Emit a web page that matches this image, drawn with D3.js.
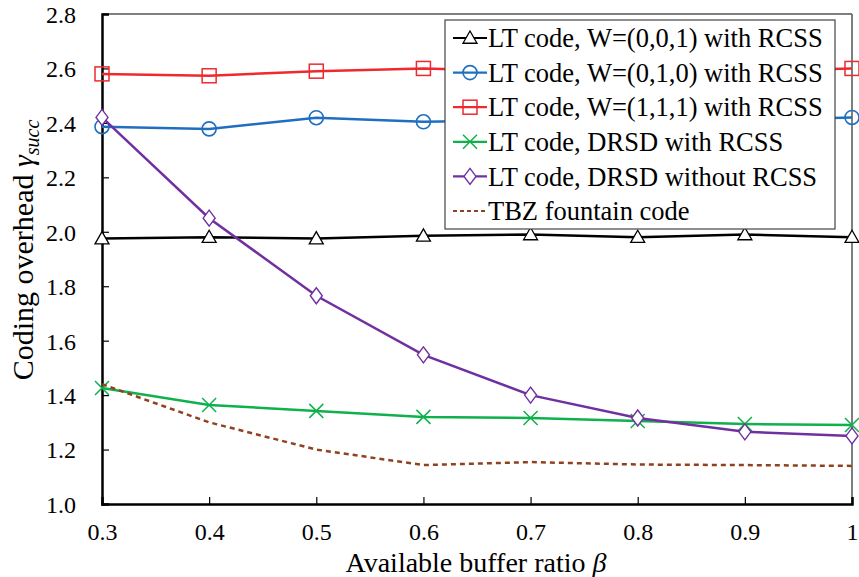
<!DOCTYPE html>
<html>
<head>
<meta charset="utf-8">
<script src="https://cdn.jsdelivr.net/npm/d3@7"></script>
<style>
  body { margin: 0; background: #fff; }
  svg { display: block; }
</style>
</head>
<body>
<div id="chart"></div>
<script>
const betas = [0.3, 0.4, 0.5, 0.6, 0.7, 0.8, 0.9, 1.0];
const xTicks = [0.3, 0.4, 0.5, 0.6, 0.7, 0.8, 0.9, 1];
const yTicks = [1.0, 1.2, 1.4, 1.6, 1.8, 2.0, 2.2, 2.4, 2.6, 2.8];

const w001 = [1.975, 1.98, 1.975, 1.985, 1.99, 1.98, 1.99, 1.98];
const w010 = [2.386, 2.378, 2.419, 2.404, 2.41, 2.40, 2.41, 2.42];
const w111 = [2.58, 2.573, 2.59, 2.60, 2.59, 2.60, 2.59, 2.60];
const drsdWith = [1.426, 1.364, 1.342, 1.32, 1.316, 1.305, 1.294, 1.29];
const drsdWithout = [2.42, 2.05, 1.765, 1.548, 1.40, 1.316, 1.265, 1.25];
const tbz = [1.44, 1.30, 1.20, 1.143, 1.154, 1.145, 1.143, 1.14];

const series = [
  { name: "LT code, W=(0,0,1) with RCSS", values: w001, color: "#000000", marker: "triangle" },
  { name: "LT code, W=(0,1,0) with RCSS", values: w010, color: "#1f6fc0", marker: "circle" },
  { name: "LT code, W=(1,1,1) with RCSS", values: w111, color: "#ee2a2e", marker: "square" },
  { name: "LT code, DRSD with RCSS", values: drsdWith, color: "#10b04c", marker: "x" },
  { name: "LT code, DRSD without RCSS", values: drsdWithout, color: "#7030a0", marker: "diamond" },
  { name: "TBZ fountain code", values: tbz, color: "#8f4220", marker: "none", dash: "5,4" }
];

const serif = "'Liberation Serif', 'Times New Roman', serif";
const width = 859, height = 577;
const margin = { left: 102, right: 7, top: 14, bottom: 73 };

const svg = d3.select("#chart").append("svg")
  .attr("width", width)
  .attr("height", height)
  .style("font-family", serif);

const x = d3.scaleLinear().domain([0.3, 1]).range([margin.left, width - margin.right]);
const y = d3.scaleLinear().domain([1.0, 2.8]).range([height - margin.bottom, margin.top]);

// frame: top/right thin grey
svg.append("line").attr("x1", x(0.3)).attr("x2", x(1)).attr("y1", y(2.8)).attr("y2", y(2.8))
  .attr("stroke", "#555").attr("stroke-width", 1.5);
svg.append("line").attr("x1", x(1)).attr("x2", x(1)).attr("y1", y(2.8)).attr("y2", y(1))
  .attr("stroke", "#555").attr("stroke-width", 1.5);

// axes
const xAxis = svg.append("g")
  .attr("transform", `translate(0,${y(1)})`)
  .call(d3.axisBottom(x).tickValues(xTicks).tickSize(-7).tickPadding(19).tickFormat(d => d === 1 ? "1" : d3.format(".1f")(d)));
const yAxis = svg.append("g")
  .attr("transform", `translate(${x(0.3)},0)`)
  .call(d3.axisLeft(y).tickValues(yTicks).tickSize(-7).tickPadding(26).tickFormat(d3.format(".1f")));

[xAxis, yAxis].forEach(a => {
  a.attr("font-family", null);
  a.select(".domain").attr("stroke", "#000").attr("stroke-width", 2.5);
  a.selectAll(".tick line").attr("stroke", "#000").attr("stroke-width", 1.2);
  a.selectAll(".tick text").attr("fill", "#000").style("font-size", "24px").style("font-family", serif);
});
yAxis.selectAll(".tick text").attr("dy", "0.35em");

// axis titles
const xt = svg.append("text")
  .attr("x", 476).attr("y", 572)
  .attr("text-anchor", "middle")
  .style("font-size", "28px");
xt.append("tspan").text("Available buffer ratio ");
xt.append("tspan").style("font-style", "italic").text("β");

const yt = svg.append("text")
  .attr("transform", `translate(33,${250}) rotate(-90)`)
  .attr("text-anchor", "middle")
  .style("font-size", "30px");
yt.append("tspan").text("Coding overhead ");
yt.append("tspan").style("font-style", "italic").text("γ");
yt.append("tspan").style("font-style", "italic").style("font-size", "20px").attr("dy", 6).text("succ");

const line = d3.line().x((d, i) => x(betas[i])).y(d => y(d));

function drawMarker(g, type, color) {
  const s = 7;
  if (type === "triangle") {
    g.append("path").attr("d", `M0,${-s}L${s},${s * 0.75}L${-s},${s * 0.75}Z`)
      .attr("fill", "#fff").attr("stroke", color).attr("stroke-width", 1.3);
  } else if (type === "circle") {
    g.append("circle").attr("r", s).attr("fill", "none").attr("stroke", color).attr("stroke-width", 1.6);
  } else if (type === "square") {
    g.append("rect").attr("x", -s).attr("y", -s).attr("width", 2 * s).attr("height", 2 * s)
      .attr("fill", "none").attr("stroke", color).attr("stroke-width", 1.5);
  } else if (type === "x") {
    g.append("path").attr("d", `M${-s},${-s}L${s},${s}M${-s},${s}L${s},${-s}`)
      .attr("stroke", color).attr("stroke-width", 1.5);
  } else if (type === "diamond") {
    g.append("path").attr("d", `M0,${-s - 1}L${s - 1},0L0,${s + 1}L${-s + 1},0Z`)
      .attr("fill", "#fff").attr("stroke", color).attr("stroke-width", 1.4);
  }
}

const plot = svg.append("g");
series.forEach(s => {
  plot.append("path")
    .datum(s.values)
    .attr("d", line)
    .attr("fill", "none")
    .attr("stroke", s.color)
    .attr("stroke-width", 2.5)
    .attr("stroke-dasharray", s.dash || null);
  if (s.marker !== "none") {
    s.values.forEach((v, i) => {
      const g = plot.append("g").attr("transform", `translate(${x(betas[i])},${y(v)})`);
      drawMarker(g, s.marker, s.color);
    });
  }
});

// legend
const legend = svg.append("g");
legend.append("rect")
  .attr("x", 445).attr("y", 20).attr("width", 390).attr("height", 209)
  .attr("fill", "#fff").attr("stroke", "#444").attr("stroke-width", 1.2);
series.forEach((s, i) => {
  const cy = 38 + i * 34.6;
  const g = legend.append("g");
  g.append("line").attr("x1", 453).attr("x2", 487).attr("y1", cy).attr("y2", cy)
    .attr("stroke", s.color).attr("stroke-width", 2.2).attr("stroke-dasharray", s.dash ? "4,3" : null);
  if (s.marker !== "none") {
    const mg = g.append("g").attr("transform", `translate(470,${cy})`);
    drawMarker(mg, s.marker, s.color);
  }
  g.append("text").attr("x", 488).attr("y", cy).attr("dy", "0.35em")
    .style("font-size", "26.5px").text(s.name);
});
</script>
</body>
</html>
